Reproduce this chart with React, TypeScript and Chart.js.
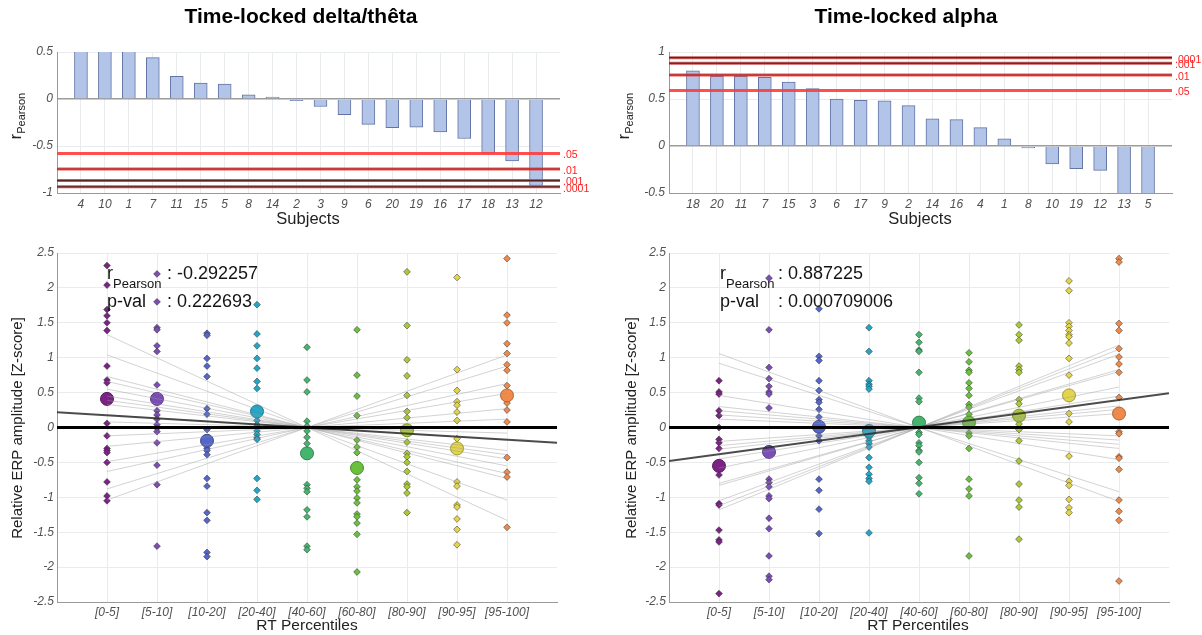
import React, { useEffect, useRef } from 'react';
import { Chart, registerables } from 'chart.js';

Chart.register(...registerables);

const FF = "'Liberation Sans', Arial, Helvetica, sans-serif";

// ---------------- DATA ----------------
const subjectsDelta = ['4', '10', '1', '7', '11', '15', '5', '8', '14', '2', '3', '9', '6', '20', '19', '16', '17', '18', '13', '12'];
const rDelta = [0.62, 0.6, 0.58, 0.44, 0.24, 0.17, 0.16, 0.045, 0.02, -0.017, -0.08, -0.167, -0.27, -0.305, -0.3, -0.35, -0.42, -0.576, -0.66, -0.92];

const subjectsAlpha = ['18', '20', '11', '7', '15', '3', '6', '17', '9', '2', '14', '16', '4', '1', '8', '10', '19', '12', '13', '5'];
const rAlpha = [0.8, 0.74, 0.74, 0.73, 0.68, 0.61, 0.5, 0.486, 0.48, 0.43, 0.29, 0.28, 0.196, 0.077, -0.02, -0.19, -0.24, -0.26, -0.62, -0.64];

const thresholdLabels = ['.05', '.01', '.001', '.0001'];
const thresholdsDelta = [-0.58, -0.745, -0.868, -0.934];
const thresholdsAlpha = [0.59, 0.755, 0.88, 0.94];

const percentileLabels = ['[0-5]', '[5-10]', '[10-20]', '[20-40]', '[40-60]', '[60-80]', '[80-90]', '[90-95]', '[95-100]'];

const deltaBin1 = [2.32, 2.04, 1.69, 1.6, 1.5, 1.39, 0.88, 0.68, 0.64, 0.06, -0.12, -0.3, -0.33, -0.36, -0.5, -0.78, -0.98, -1.05];
const deltaBin2 = [2.2, 1.8, 1.43, 1.4, 1.17, 1.09, 0.61, 0.24, 0.18, 0.12, 0.04, -0.01, -0.06, -0.22, -0.54, -0.82, -1.7];
const deltaBin3 = [1.35, 1.32, 0.99, 0.88, 0.73, 0.27, 0.19, -0.03, -0.3, -0.33, -0.39, -0.73, -0.84, -1.22, -1.33, -1.79, -1.85];
const deltaBin4 = [1.76, 1.34, 1.17, 0.99, 0.85, 0.66, 0.56, 0.1, 0.04, -0.05, -0.1, -0.15, -0.17, -0.73, -0.9, -1.03];
const deltaBin5 = [1.15, 0.68, 0.51, 0.09, 0.02, -0.05, -0.14, -0.23, -0.82, -0.87, -0.92, -1.18, -1.28, -1.7, -1.75];
const deltaBin6 = [1.4, 0.75, 0.45, 0.17, -0.18, -0.28, -0.36, -0.75, -0.85, -0.91, -1.01, -1.08, -1.24, -1.28, -1.37, -1.53, -2.07];
const deltaBin7 = [2.23, 1.46, 0.97, 0.74, 0.46, 0.23, 0.14, -0.21, -0.37, -0.42, -0.5, -0.63, -0.81, -0.85, -0.94, -1.22];
const deltaBin8 = [2.15, 0.83, 0.53, 0.37, 0.32, 0.22, 0.1, -0.16, -0.78, -0.84, -1.11, -1.14, -1.31, -1.46, -1.68];
const deltaBin9 = [2.42, 1.61, 1.5, 1.2, 1.06, 0.9, 0.82, 0.6, 0.35, 0.25, 0.08, -0.43, -0.64, -0.71, -1.43];
const deltaMeans = [0.41, 0.41, -0.19, 0.23, -0.37, -0.58, -0.04, -0.3, 0.46];
// per-subject fits: value at [0-5], mirrored at [95-100]
const deltaSubjectFits = [1.33, 1.04, 0.73, 0.66, 0.55, 0.45, 0.39, 0.33, 0.18, 0.08, -0.12, -0.27, -0.49, -0.63, -0.88, -1.04];
const deltaTrend = [0.22, -0.22];

const alphaBin1 = [0.67, 0.51, 0.48, 0.24, 0.17, 0.0, -0.17, -0.22, -0.3, -0.68, -1.09, -1.11, -1.47, -1.61, -1.64, -2.38];
const alphaBin2 = [2.14, 1.4, 0.86, 0.7, 0.59, 0.51, 0.48, 0.28, -0.74, -0.79, -0.85, -0.98, -1.02, -1.3, -1.45, -1.84, -2.13, -2.18];
const alphaBin3 = [1.7, 1.02, 0.96, 0.67, 0.53, 0.4, 0.36, 0.26, 0.15, -0.12, -0.19, -0.74, -0.9, -1.17, -1.52];
const alphaBin4 = [1.43, 1.09, 0.67, 0.62, 0.59, 0.55, -0.14, -0.19, -0.23, -0.28, -0.43, -0.57, -0.67, -0.73, -0.77, -1.51];
const alphaBin5 = [1.33, 1.22, 1.11, 1.09, 0.79, 0.42, 0.37, -0.07, -0.1, -0.22, -0.26, -0.33, -0.35, -0.5, -0.72, -0.8, -0.95];
const alphaBin6 = [1.07, 0.94, 0.82, 0.79, 0.64, 0.56, 0.46, 0.33, 0.29, 0.19, -0.08, -0.12, -0.3, -0.74, -0.88, -0.98, -1.84];
const alphaBin7 = [1.47, 1.33, 1.25, 0.88, 0.83, 0.79, 0.4, 0.34, 0.05, -0.03, -0.19, -0.48, -0.81, -1.04, -1.14, -1.6];
const alphaBin8 = [2.1, 1.96, 1.5, 1.45, 1.39, 1.33, 1.3, 1.21, 0.99, 0.75, 0.2, 0.08, -0.41, -0.77, -0.83, -1.03, -1.15, -1.22];
const alphaBin9 = [2.42, 2.37, 1.49, 1.39, 1.13, 1.01, 0.91, 0.79, 0.43, -0.06, -0.09, -0.42, -0.44, -0.6, -1.04, -1.2, -1.33, -2.2];
const alphaMeans = [-0.55, -0.35, 0.01, -0.05, 0.07, 0.07, 0.17, 0.46, 0.2];
const alphaSubjectFits = [1.06, 0.92, 0.46, 0.3, 0.24, 0.18, 0.12, -0.2, -0.26, -0.31, -0.45, -0.58, -0.8, -0.83, -1.05, -1.12, -1.18];
const alphaTrend = [-0.48, 0.49];

const deltaStats = { r: ': -0.292257', p: ': 0.222693' };
const alphaStats = { r: ': 0.887225', p: ': 0.000709006' };

// ---------------- STYLES ----------------
const binColors = ['#7b2385', '#7a4eb4', '#5566c8', '#22a6c6', '#45b56e', '#6bbf3e', '#a9c935', '#e2d54c', '#f08a4b'];
const GRID = '#e9ecec';
const AXIS = '#9a9a9a';
const TICK = '#505050';
const BAR_FILL = '#b2c4e7';
const BAR_EDGE = '#6474a4';
const thresholdStyles = [
  { outer: 'rgba(255,60,60,0.9)', inner: '' },
  { outer: 'rgba(238,60,60,0.9)', inner: 'rgba(90,20,20,0.6)' },
  { outer: 'rgba(195,70,70,0.9)', inner: 'rgba(60,20,20,0.85)' },
  { outer: 'rgba(190,70,70,0.9)', inner: 'rgba(60,20,20,0.85)' },
];

function shade(hex: string, f: number) {
  const n = parseInt(hex.slice(1), 16);
  const r = Math.round(((n >> 16) & 255) * f);
  const g = Math.round(((n >> 8) & 255) * f);
  const b = Math.round((n & 255) * f);
  return `rgb(${r},${g},${b})`;
}

const fmtTick = (v: any) => String(Math.round(Number(v) * 100) / 100);

type Part = { text: string; font: string; dy?: number };
type TextItem = { x: number; y: number; parts: Part[]; align?: 'left' | 'center'; baseline?: CanvasTextBaseline; rotate?: number; color?: string };

function textPlugin(items: TextItem[]) {
  return {
    id: 'texts',
    afterDraw(chart: any) {
      const ctx: CanvasRenderingContext2D = chart.ctx;
      for (const it of items) {
        ctx.save();
        ctx.translate(it.x, it.y);
        if (it.rotate) ctx.rotate(it.rotate);
        ctx.fillStyle = it.color || '#1e1e1e';
        ctx.textBaseline = it.baseline || 'alphabetic';
        ctx.textAlign = 'left';
        let total = 0;
        const widths = it.parts.map((p) => {
          ctx.font = p.font;
          const w = ctx.measureText(p.text).width;
          total += w;
          return w;
        });
        let cx = it.align === 'center' ? -total / 2 : 0;
        it.parts.forEach((p, i) => {
          ctx.font = p.font;
          ctx.fillText(p.text, cx, p.dy || 0);
          cx += widths[i];
        });
        ctx.restore();
      }
    },
  };
}

function thresholdLabelPlugin(values: number[], labels: string[]) {
  return {
    id: 'thrLabels',
    afterDraw(chart: any) {
      const ctx: CanvasRenderingContext2D = chart.ctx;
      const ys = chart.scales.y;
      ctx.save();
      ctx.font = `10.5px ${FF}`;
      ctx.fillStyle = '#ff1e1e';
      ctx.textBaseline = 'middle';
      ctx.textAlign = 'left';
      values.forEach((v, i) => ctx.fillText(labels[i], chart.chartArea.right + 3, ys.getPixelForValue(v) + 2));
      ctx.restore();
    },
  };
}

const tickFont = { size: 12, style: 'italic' as const, family: FF };

function barConfig(p: {
  subjects: string[]; values: number[]; thresholds: number[]; yMin: number; yMax: number;
  axisWidth: number; padRight: number; title: string; titleX: number; subjectsX: number; ylabelX: number;
}): any {
  const n = p.subjects.length;
  const datasets: any[] = [];
  p.thresholds.forEach((t, i) => {
    const st = thresholdStyles[i];
    const pts = [{ x: 0, y: t }, { x: n + 1, y: t }];
    datasets.push({ type: 'line', data: pts, borderColor: st.outer, borderWidth: 3, pointRadius: 0, order: 1 });
    if (st.inner) datasets.push({ type: 'line', data: pts, borderColor: st.inner, borderWidth: 1, pointRadius: 0, order: 0 });
  });
  datasets.push({
    type: 'bar',
    data: p.values.map((v, i) => ({ x: i + 1, y: v })),
    backgroundColor: BAR_FILL,
    borderColor: BAR_EDGE,
    borderWidth: 1,
    barThickness: 13,
    clip: 0,
    order: 5,
  });
  return {
    type: 'bar',
    data: { datasets },
    options: {
      animation: false,
      responsive: false,
      events: [],
      layout: { padding: { top: 52, right: p.padRight, left: 0, bottom: 0 } },
      plugins: { legend: { display: false }, tooltip: { enabled: false } },
      scales: {
        x: {
          type: 'linear', min: 0, max: n + 1, offset: false,
          afterFit: (s: any) => { s.height = 42; },
          grid: { color: (c: any) => (c.tick && c.tick.value > 0 && c.tick.value <= n ? GRID : 'rgba(0,0,0,0)'), drawTicks: false, offset: false },
          border: { display: true, color: AXIS, width: 1 },
          ticks: {
            stepSize: 1, autoSkip: false, maxRotation: 0, minRotation: 0, maxTicksLimit: 100, padding: 4, color: TICK, font: tickFont,
            callback: (v: any) => p.subjects[Number(v) - 1] ?? '',
          },
        },
        y: {
          type: 'linear', min: p.yMin, max: p.yMax,
          afterFit: (s: any) => { s.width = p.axisWidth; },
          grid: {
            color: (c: any) => (c.tick && c.tick.value === 0 ? '#9c9c9c' : GRID),
            lineWidth: (c: any) => (c.tick && c.tick.value === 0 ? 1.5 : 1),
            drawTicks: false,
          },
          border: { display: true, color: AXIS, width: 1 },
          ticks: { stepSize: 0.5, padding: 4, color: TICK, font: tickFont, callback: fmtTick },
        },
      },
    },
    plugins: [
      thresholdLabelPlugin(p.thresholds, thresholdLabels),
      textPlugin([
        { x: p.titleX, y: 17, align: 'center', baseline: 'middle', color: '#000', parts: [{ text: p.title, font: `bold 21px ${FF}` }] },
        { x: p.subjectsX, y: 219, align: 'center', baseline: 'middle', color: '#222', parts: [{ text: 'Subjects', font: `16.5px ${FF}` }] },
        {
          x: p.ylabelX, y: 116, align: 'center', baseline: 'middle', rotate: -Math.PI / 2, color: '#222',
          parts: [{ text: 'r', font: `16px ${FF}` }, { text: 'Pearson', font: `11px ${FF}`, dy: 5 }],
        },
      ]),
    ],
  };
}

function scatterConfig(p: {
  bins: number[][]; means: number[]; fits: number[]; trend: number[]; stats: { r: string; p: string };
  axisWidth: number; padRight: number; ylabelX: number; xlabelX: number; rX: number; colonX: number;
}): any {
  const datasets: any[] = [];
  datasets.push({ type: 'line', data: [{ x: 0, y: 0 }, { x: 10, y: 0 }], borderColor: '#000', borderWidth: 3, pointRadius: 0, order: 0 });
  datasets.push({ type: 'line', data: [{ x: 0, y: p.trend[0] }, { x: 10, y: p.trend[1] }], borderColor: 'rgba(45,45,45,0.85)', borderWidth: 2, pointRadius: 0, order: 1 });
  p.fits.forEach((a) => {
    datasets.push({ type: 'line', data: [{ x: 1, y: a }, { x: 9, y: -a }], borderColor: 'rgba(150,150,150,0.42)', borderWidth: 1, pointRadius: 0, order: 2 });
  });
  datasets.push({
    type: 'scatter',
    data: p.means.map((m, i) => ({ x: i + 1, y: m })),
    backgroundColor: binColors,
    borderColor: binColors.map((c) => shade(c, 0.72)),
    borderWidth: 1,
    pointRadius: 6.5,
    order: 3,
  });
  p.bins.forEach((vals, i) => {
    datasets.push({
      type: 'scatter',
      data: vals.map((v) => ({ x: i + 1, y: v })),
      backgroundColor: binColors[i],
      borderColor: 'rgba(45,45,45,0.65)',
      borderWidth: 0.8,
      pointStyle: 'rectRot',
      pointRadius: 3.4,
      order: 4,
    });
  });
  return {
    type: 'scatter',
    data: { datasets },
    options: {
      animation: false,
      responsive: false,
      events: [],
      layout: { padding: { top: 18, right: p.padRight, left: 0, bottom: 0 } },
      plugins: { legend: { display: false }, tooltip: { enabled: false } },
      scales: {
        x: {
          type: 'linear', min: 0, max: 10,
          afterFit: (s: any) => { s.height = 33; },
          grid: { color: (c: any) => (c.tick && c.tick.value > 0 && c.tick.value < 10 ? GRID : 'rgba(0,0,0,0)'), drawTicks: false },
          border: { display: true, color: AXIS, width: 1 },
          ticks: {
            stepSize: 1, autoSkip: false, maxRotation: 0, minRotation: 0, maxTicksLimit: 100, padding: 3, color: TICK, font: tickFont,
            callback: (v: any) => percentileLabels[Number(v) - 1] ?? '',
          },
        },
        y: {
          type: 'linear', min: -2.5, max: 2.5,
          afterFit: (s: any) => { s.width = p.axisWidth; },
          grid: { color: GRID, drawTicks: false },
          border: { display: true, color: AXIS, width: 1 },
          ticks: { stepSize: 0.5, padding: 3, color: TICK, font: tickFont, callback: fmtTick },
        },
      },
    },
    plugins: [
      textPlugin([
        {
          x: p.ylabelX, y: 193, align: 'center', baseline: 'middle', rotate: -Math.PI / 2, color: '#222',
          parts: [{ text: 'Relative ERP amplitude [Z-score]', font: `15px ${FF}` }],
        },
        { x: p.xlabelX, y: 391, align: 'center', baseline: 'middle', color: '#222', parts: [{ text: 'RT Percentiles', font: `15.5px ${FF}` }] },
        { x: p.rX, y: 44, color: '#141414', parts: [{ text: 'r', font: `18px ${FF}` }, { text: 'Pearson', font: `13px ${FF}`, dy: 9 }] },
        { x: p.colonX, y: 44, color: '#141414', parts: [{ text: p.stats.r, font: `18px ${FF}` }] },
        { x: p.rX, y: 72, color: '#141414', parts: [{ text: 'p-val', font: `18px ${FF}` }] },
        { x: p.colonX, y: 72, color: '#141414', parts: [{ text: p.stats.p, font: `18px ${FF}` }] },
      ]),
    ],
  };
}

const makeTopLeft = () => barConfig({
  subjects: subjectsDelta, values: rDelta, thresholds: thresholdsDelta, yMin: -1, yMax: 0.5,
  axisWidth: 57, padRight: 40, title: 'Time-locked delta/thêta', titleX: 301, subjectsX: 308, ylabelX: 17,
});
const makeTopRight = () => barConfig({
  subjects: subjectsAlpha, values: rAlpha, thresholds: thresholdsAlpha, yMin: -0.5, yMax: 1,
  axisWidth: 69, padRight: 30, title: 'Time-locked alpha', titleX: 306, subjectsX: 320, ylabelX: 25,
});
const makeBottomLeft = () => scatterConfig({
  bins: [deltaBin1, deltaBin2, deltaBin3, deltaBin4, deltaBin5, deltaBin6, deltaBin7, deltaBin8, deltaBin9],
  means: deltaMeans, fits: deltaSubjectFits, trend: deltaTrend, stats: deltaStats,
  axisWidth: 57, padRight: 43, ylabelX: 18, xlabelX: 307, rX: 107, colonX: 167,
});
const makeBottomRight = () => scatterConfig({
  bins: [alphaBin1, alphaBin2, alphaBin3, alphaBin4, alphaBin5, alphaBin6, alphaBin7, alphaBin8, alphaBin9],
  means: alphaMeans, fits: alphaSubjectFits, trend: alphaTrend, stats: alphaStats,
  axisWidth: 69, padRight: 33, ylabelX: 32, xlabelX: 318, rX: 120, colonX: 178,
});

function ChartCanvas({ make, left, top, width, height }: { make: () => any; left: number; top: number; width: number; height: number }) {
  const ref = useRef<HTMLCanvasElement | null>(null);
  useEffect(() => {
    if (!ref.current) return;
    const chart = new Chart(ref.current, make());
    return () => chart.destroy();
  }, [make]);
  return (
    <canvas
      ref={ref}
      width={width}
      height={height}
      style={{ position: 'absolute', left, top, width, height, display: 'block' }}
    />
  );
}

export default function App() {
  return (
    <div style={{ position: 'absolute', left: 0, top: 0, width: 1202, height: 635, background: '#fff', overflow: 'hidden' }}>
      <ChartCanvas make={makeTopLeft} left={0} top={0} width={600} height={235} />
      <ChartCanvas make={makeTopRight} left={600} top={0} width={602} height={235} />
      <ChartCanvas make={makeBottomLeft} left={0} top={235} width={600} height={400} />
      <ChartCanvas make={makeBottomRight} left={600} top={235} width={602} height={400} />
    </div>
  );
}
